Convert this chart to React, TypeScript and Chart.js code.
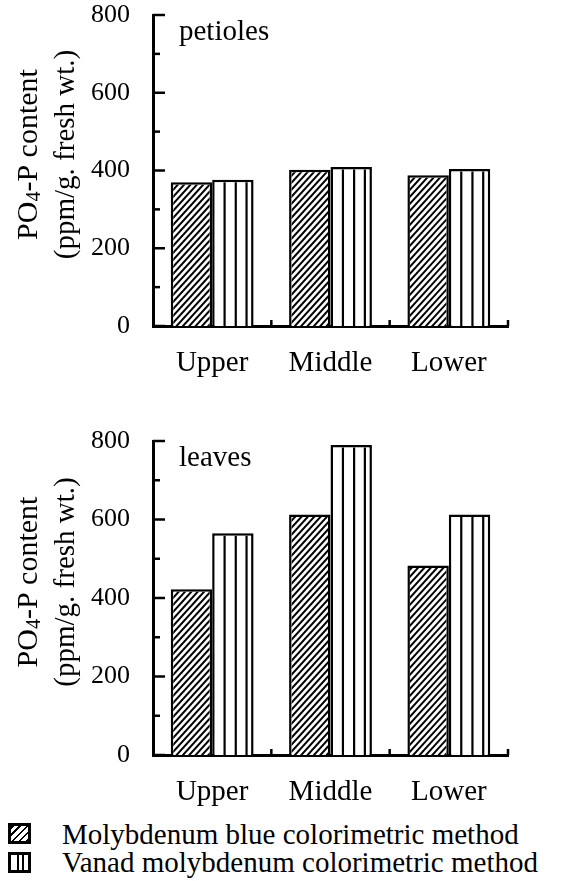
import React, { useEffect, useRef } from 'react';
import { Chart, registerables } from 'chart.js';

Chart.register(...registerables);

// ---- data ----
const categories = ['Upper', 'Middle', 'Lower'];
const petiolesMolybdenumBlue = [370, 402, 388];
const petiolesVanadMolybdenum = [376, 409, 404];
const leavesMolybdenumBlue = [422, 613, 483];
const leavesVanadMolybdenum = [565, 790, 613];
const seriesNames = ['Molybdenum blue colorimetric method', 'Vanad molybdenum colorimetric method'];
const yMax = 800;
const yMajorStep = 200;
const yMinorStep = 100;
const panelLabels = ['petioles', 'leaves'];
const yTitleLine1 = ['PO', '4', '-P content'];
const yTitleLine2 = '(ppm/g. fresh wt.)';

const SERIF = "Liberation Serif, LiberationSerif, Tinos, Times New Roman, DejaVu Serif, serif";

const barPatternPlugin = {
  id: 'barPatterns',
  afterDatasetsDraw(chart: any) {
    const ctx = chart.ctx;
    chart.data.datasets.forEach((ds: any, di: number) => {
      const meta = chart.getDatasetMeta(di);
      meta.data.forEach((bar: any) => {
        const { x, y, base, width } = bar.getProps(['x', 'y', 'base', 'width'], true);
        const left = x - width / 2;
        const right = x + width / 2;
        const top = Math.min(y, base);
        const bottom = Math.max(y, base);
        const bw = 2.5;
        ctx.save();
        ctx.beginPath();
        ctx.rect(left + bw, top + bw, width - 2 * bw, bottom - top - bw);
        ctx.clip();
        ctx.strokeStyle = '#000';
        if (ds.patternKind === 'hatch') {
          ctx.lineWidth = 2;
          const step = 7;
          for (let k = bottom + width; k > top - step; k -= step) {
            ctx.beginPath();
            ctx.moveTo(left, k);
            ctx.lineTo(right, k - width * 1.1);
            ctx.stroke();
          }
        } else {
          ctx.lineWidth = 2.2;
          [0.3, 0.57, 0.83].forEach((f) => {
            const lx = left + width * f;
            ctx.beginPath();
            ctx.moveTo(lx, top);
            ctx.lineTo(lx, bottom);
            ctx.stroke();
          });
        }
        ctx.restore();
      });
    });
  },
};

const decorPlugin = {
  id: 'panelDecor',
  afterDraw(chart: any, _args: any, opts: any) {
    const { ctx, chartArea } = chart;
    const xs = chart.scales.x;
    const ys = chart.scales.y;
    ctx.save();
    ctx.strokeStyle = '#000';
    ctx.lineWidth = 2.5;
    ys.ticks.forEach((t: any) => {
      const py = ys.getPixelForValue(t.value);
      const len = t.value % yMajorStep === 0 ? 12 : 7;
      ctx.beginPath();
      ctx.moveTo(chartArea.left, py);
      ctx.lineTo(chartArea.left + len, py);
      ctx.stroke();
    });
    for (let i = 0; i < categories.length; i++) {
      const px = xs.getPixelForValue(i + 0.5);
      ctx.beginPath();
      ctx.moveTo(px, chartArea.bottom);
      ctx.lineTo(px, chartArea.bottom - 6);
      ctx.stroke();
    }
    ctx.fillStyle = '#000';
    ctx.font = `29px ${SERIF}`;
    ctx.textAlign = 'left';
    ctx.textBaseline = 'alphabetic';
    ctx.fillText(opts.label, chartArea.left + 26, chartArea.top + 25);
    const cy = (chartArea.top + chartArea.bottom) / 2 - 16;
    const big = `30px ${SERIF}`;
    const small = `20px ${SERIF}`;
    ctx.textBaseline = 'middle';
    ctx.save();
    ctx.translate(29, cy);
    ctx.rotate(-Math.PI / 2);
    ctx.font = big;
    const w0 = ctx.measureText(yTitleLine1[0]).width;
    const w2 = ctx.measureText(yTitleLine1[2]).width;
    ctx.font = small;
    const w1 = ctx.measureText(yTitleLine1[1]).width;
    let sx = -(w0 + w1 + w2) / 2;
    ctx.textAlign = 'left';
    ctx.font = big;
    ctx.fillText(yTitleLine1[0], sx, 0);
    sx += w0;
    ctx.font = small;
    ctx.fillText(yTitleLine1[1], sx, 6);
    sx += w1;
    ctx.font = big;
    ctx.fillText(yTitleLine1[2], sx, 0);
    ctx.restore();
    ctx.save();
    ctx.translate(66, cy);
    ctx.rotate(-Math.PI / 2);
    ctx.font = `29px ${SERIF}`;
    ctx.textAlign = 'center';
    ctx.fillText(yTitleLine2, 0, 0);
    ctx.restore();
    ctx.restore();
  },
};

function Panel({ label, dataA, dataB, height, padTop }: any) {
  const ref = useRef<HTMLCanvasElement>(null);
  useEffect(() => {
    const chart = new Chart(ref.current as HTMLCanvasElement, {
      type: 'bar',
      data: {
        labels: categories,
        datasets: [
          {
            label: seriesNames[0],
            data: dataA,
            backgroundColor: '#fff',
            borderColor: '#000',
            borderWidth: 2.5,
            patternKind: 'hatch',
          } as any,
          {
            label: seriesNames[1],
            data: dataB,
            backgroundColor: '#fff',
            borderColor: '#000',
            borderWidth: 2.5,
            patternKind: 'vertical',
          } as any,
        ],
      },
      options: {
        animation: false,
        responsive: false,
        maintainAspectRatio: false,
        layout: { padding: { left: 0, right: 72, top: padTop, bottom: 0 } },
        datasets: { bar: { categoryPercentage: 0.7, barPercentage: 1.0 } },
        plugins: {
          legend: { display: false },
          tooltip: { enabled: false },
          panelDecor: { label },
        } as any,
        scales: {
          x: {
            offset: true,
            grid: { display: false },
            border: { display: true, color: '#000', width: 3 },
            ticks: {
              color: '#000',
              padding: 12,
              font: { family: SERIF, size: 29 },
            },
            afterFit: (s: any) => {
              s.height = 54;
            },
          },
          y: {
            min: 0,
            max: yMax,
            grid: { display: false },
            border: { display: true, color: '#000', width: 3 },
            ticks: {
              stepSize: yMinorStep,
              autoSkip: false,
              color: '#000',
              padding: 15,
              font: { family: SERIF, size: 26, lineHeight: 1 },
              callback: (v: any) => (Number(v) % yMajorStep === 0 ? String(v) : ''),
            },
            afterFit: (s: any) => {
              s.width = 153;
            },
          },
        },
      },
      plugins: [barPatternPlugin, decorPlugin],
    });
    return () => chart.destroy();
  }, []);
  return (
    <canvas
      ref={ref}
      width={580}
      height={height}
      style={{ display: 'block', width: 580, height }}
    />
  );
}

const hatchSwatch: React.CSSProperties = {
  position: 'absolute',
  left: 8,
  width: 23,
  height: 21,
  boxSizing: 'border-box',
  border: '3px solid #000',
  background: 'repeating-linear-gradient(-45deg, #000 0px, #000 2px, #fff 2px, #fff 5px)',
};
const vertSwatch: React.CSSProperties = {
  position: 'absolute',
  left: 8,
  width: 23,
  height: 21,
  boxSizing: 'border-box',
  border: '3px solid #000',
  background:
    'linear-gradient(to right, #fff 0%, #fff 35%, #000 35%, #000 47%, #fff 47%, #fff 62%, #000 62%, #000 74%, #fff 74%, #fff 100%)',
};
const legendText: React.CSSProperties = {
  position: 'absolute',
  left: 62,
  fontFamily: SERIF,
  fontSize: 29,
  lineHeight: '28px',
  height: 28,
  whiteSpace: 'nowrap',
  color: '#000',
};

export default function App() {
  return (
    <div style={{ position: 'absolute', left: 0, top: 0, width: 580, height: 881, background: '#fff', overflow: 'hidden' }}>
      <div style={{ position: 'absolute', left: 0, top: -15 }}>
        <Panel label={panelLabels[0]} dataA={petiolesMolybdenumBlue} dataB={petiolesVanadMolybdenum} height={395} padTop={30} />
      </div>
      <div style={{ position: 'absolute', left: 0, top: 400 }}>
        <Panel label={panelLabels[1]} dataA={leavesMolybdenumBlue} dataB={leavesVanadMolybdenum} height={409} padTop={41} />
      </div>
      <div style={{ ...hatchSwatch, top: 823 }} />
      <div style={{ ...legendText, top: 820 }}>{seriesNames[0]}</div>
      <div style={{ ...vertSwatch, top: 852 }} />
      <div style={{ ...legendText, top: 848 }}>{seriesNames[1]}</div>
    </div>
  );
}
